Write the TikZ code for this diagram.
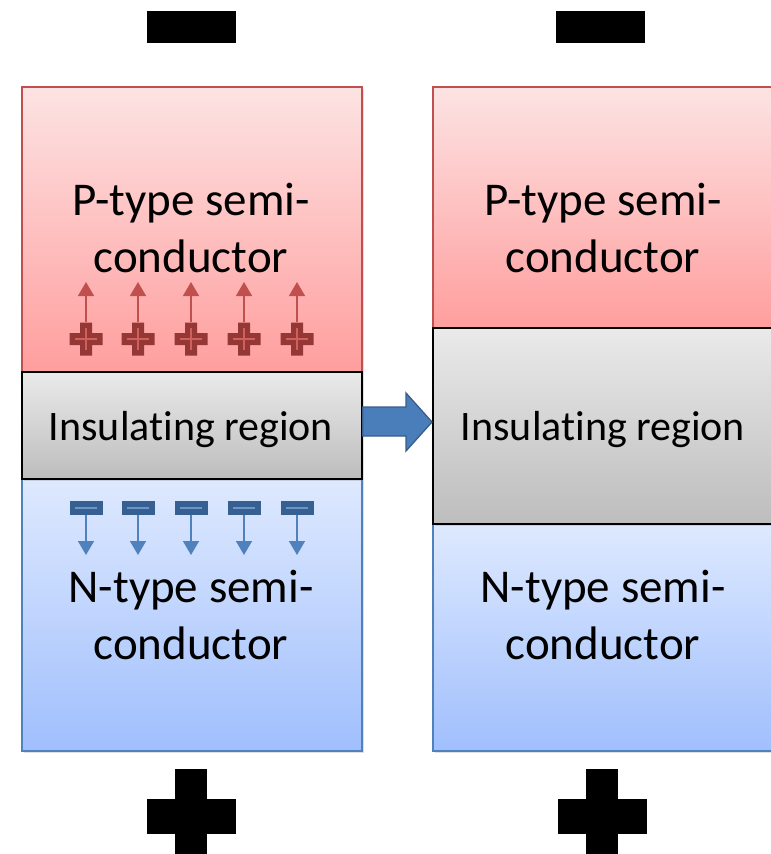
\documentclass[tikz,border=0pt]{standalone}
\usepackage{fontspec}
\setmainfont{Carlito}[Ligatures=NoCommon]
\usetikzlibrary{shadows,arrows.meta}
\definecolor{ptop}{HTML}{FDE3E3}
\definecolor{pbot}{HTML}{FF9E9E}
\definecolor{pline}{HTML}{C0504D}
\definecolor{pdark}{HTML}{953735}
\definecolor{plight}{HTML}{D0605D}
\definecolor{ntop}{HTML}{DEE9FE}
\definecolor{nbot}{HTML}{A0BFFD}
\definecolor{nline}{HTML}{4F81BD}
\definecolor{ndark}{HTML}{376092}
\definecolor{nlight}{HTML}{6C95C8}
\definecolor{itop}{HTML}{EAEAEA}
\definecolor{ibot}{HTML}{BDBDBD}
\definecolor{arrfill}{HTML}{4A7EBB}
\definecolor{arrline}{HTML}{385D8A}
\tikzset{
  layer/.style={anchor=north west, inner sep=0pt, minimum width=340pt,
    drop shadow={opacity=0.25, shadow xshift=2pt, shadow yshift=-2pt}},
  pbox/.style={layer, draw=pline, line width=1.8pt, top color=ptop, bottom color=pbot},
  nbox/.style={layer, draw=nline, line width=1.8pt, top color=ntop, bottom color=nbot},
  ibox/.style={layer, draw=black, line width=1.8pt, top color=itop, bottom color=ibot},
  lbl/.style={align=center, inner sep=0pt, anchor=base, font=\fontsize{47}{57}\selectfont},
  ilbl/.style={inner sep=0pt, anchor=base, font=\fontsize{42}{50}\selectfont},
  uparr/.style={pline, line width=1.5pt, -{Triangle[length=14pt,width=16pt]}},
  dnarr/.style={nline, line width=1.5pt, -{Triangle[length=14pt,width=16pt]}},
}
\begin{document}
\begin{tikzpicture}[x=1pt,y=-1pt]
\useasboundingbox (0,0) rectangle (771,854);
% big terminal signs
\fill (147,11) rectangle (236,43);
\fill (556,11) rectangle (645,43);
\fill (147,799) rectangle (236,834);
\fill (175,769) rectangle (207,860);
\fill (558,799) rectangle (647,834);
\fill (586,769) rectangle (618,860);
% left column
\node[pbox, minimum height=285pt] (pL) at (21,86) {};
\node[nbox, minimum height=272pt] (nL) at (21,478) {};
\node[ibox, minimum height=107pt] (iL) at (21,371) {};
% right column
\node[pbox, minimum height=241pt] (pR) at (432,86) {};
\node[nbox, minimum height=227pt] (nR) at (432,523) {};
\node[ibox, minimum height=196pt] (iR) at (432,327) {};
% labels (anchor=base is the baseline of the last line)
\node[lbl] (tpL) at (191,272) {P-type semi-\\conductor};
\node[ilbl] (tiL) at (191,440) {Insulating region};
\node[lbl] (tnL) at (191,659) {N-type semi-\\conductor};
\node[lbl] (tpR) at (603,272) {P-type semi-\\conductor};
\node[ilbl] (tiR) at (603,440) {Insulating region};
\node[lbl] (tnR) at (603,659) {N-type semi-\\conductor};
% charges
\foreach \cx in {86,138,191,244,297} {
  \fill[pdark] (\cx-16.5,333) -- (\cx-6,333) -- (\cx-6,322.5) -- (\cx+6,322.5) -- (\cx+6,333)
     -- (\cx+16.5,333) -- (\cx+16.5,345) -- (\cx+6,345) -- (\cx+6,355.5) -- (\cx-6,355.5)
     -- (\cx-6,345) -- (\cx-16.5,345) -- cycle;
  \draw[plight, line width=1.3pt] (\cx-11,339) -- (\cx+11,339) (\cx,328) -- (\cx,350);
  \coordinate (pa\cx) at (\cx,322);
  \coordinate (pb\cx) at (\cx,282);
  \draw[uparr] (pa\cx) -- (pb\cx);
  \fill[ndark] (\cx-16.5,501) rectangle (\cx+16.5,515);
  \draw[nlight, line width=1.3pt] (\cx-11,508) -- (\cx+11,508);
  \coordinate (na\cx) at (\cx,515);
  \coordinate (nb\cx) at (\cx,555);
  \draw[dnarr] (na\cx) -- (nb\cx);
}
% transition arrow
\fill[arrfill, draw=arrline, line width=1.3pt, line join=miter]
  (iL.east |- 0,407) -- (406,407) -- (406,393) -- (iR.west |- 0,422) -- (406,451) -- (406,436)
  -- (iL.east |- 0,436) -- cycle;
\end{tikzpicture}
\end{document}
